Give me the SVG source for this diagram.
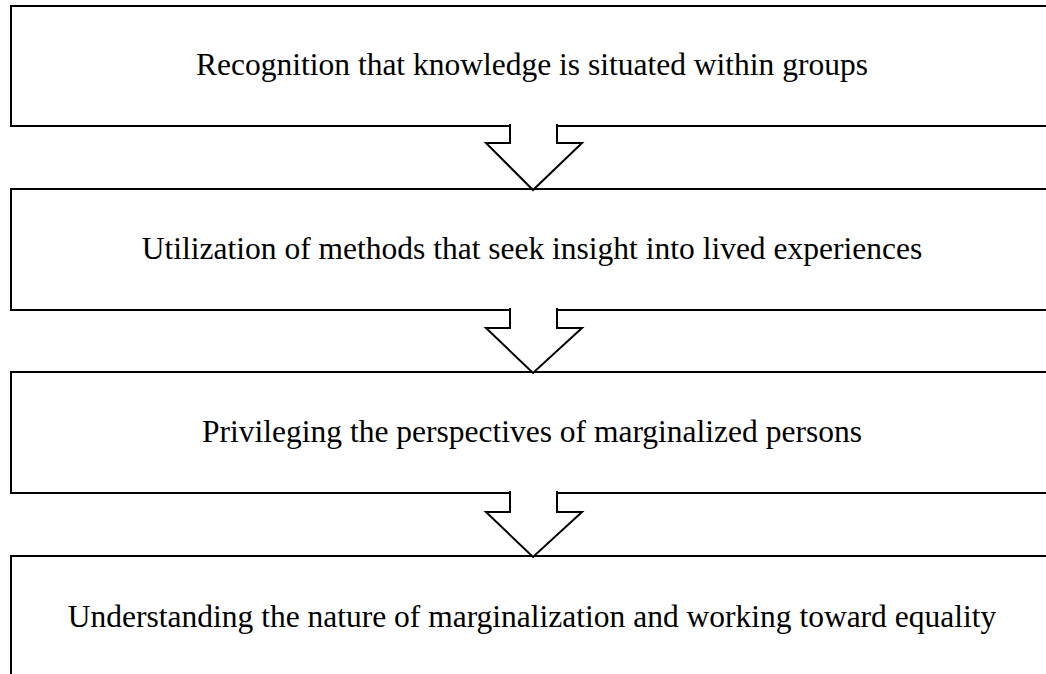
<svg xmlns="http://www.w3.org/2000/svg" width="1046" height="674" viewBox="0 0 1046 674">
<style>
.box{fill:#fff;stroke:#000;stroke-width:2}
.arr{fill:#fff;stroke:#000;stroke-width:2;stroke-linejoin:miter}
.t{font-family:"Liberation Serif","Times New Roman",serif;font-size:31.5px;fill:#000;text-anchor:middle}
</style>
<rect width="1046" height="674" fill="#fff"/>
<g id="node1"><rect class="box" x="11" y="6" width="1050" height="120"/><text class="t" x="532" y="75">Recognition that knowledge is situated within groups</text></g>
<g id="node2"><rect class="box" x="11" y="189" width="1050" height="121"/><text class="t" x="532" y="259">Utilization of methods that seek insight into lived experiences</text></g>
<g id="node3"><rect class="box" x="11" y="372" width="1050" height="121"/><text class="t" x="532" y="442">Privileging the perspectives of marginalized persons</text></g>
<g id="node4"><rect class="box" x="11" y="556" width="1050" height="130"/><text class="t" x="532" y="627">Understanding the nature of marginalization and working toward equality</text></g>
<g id="connectors">
<path class="arr" d="M510,124 L510,143 L486,143 L533,190 L582,143 L557,143 L557,124"/>
<path class="arr" d="M510,308 L510,328 L486,328 L533,373 L582,328 L557,328 L557,308"/>
<path class="arr" d="M510,491 L510,512 L486,512 L533,557 L582,512 L557,512 L557,491"/>
</g>
</svg>
